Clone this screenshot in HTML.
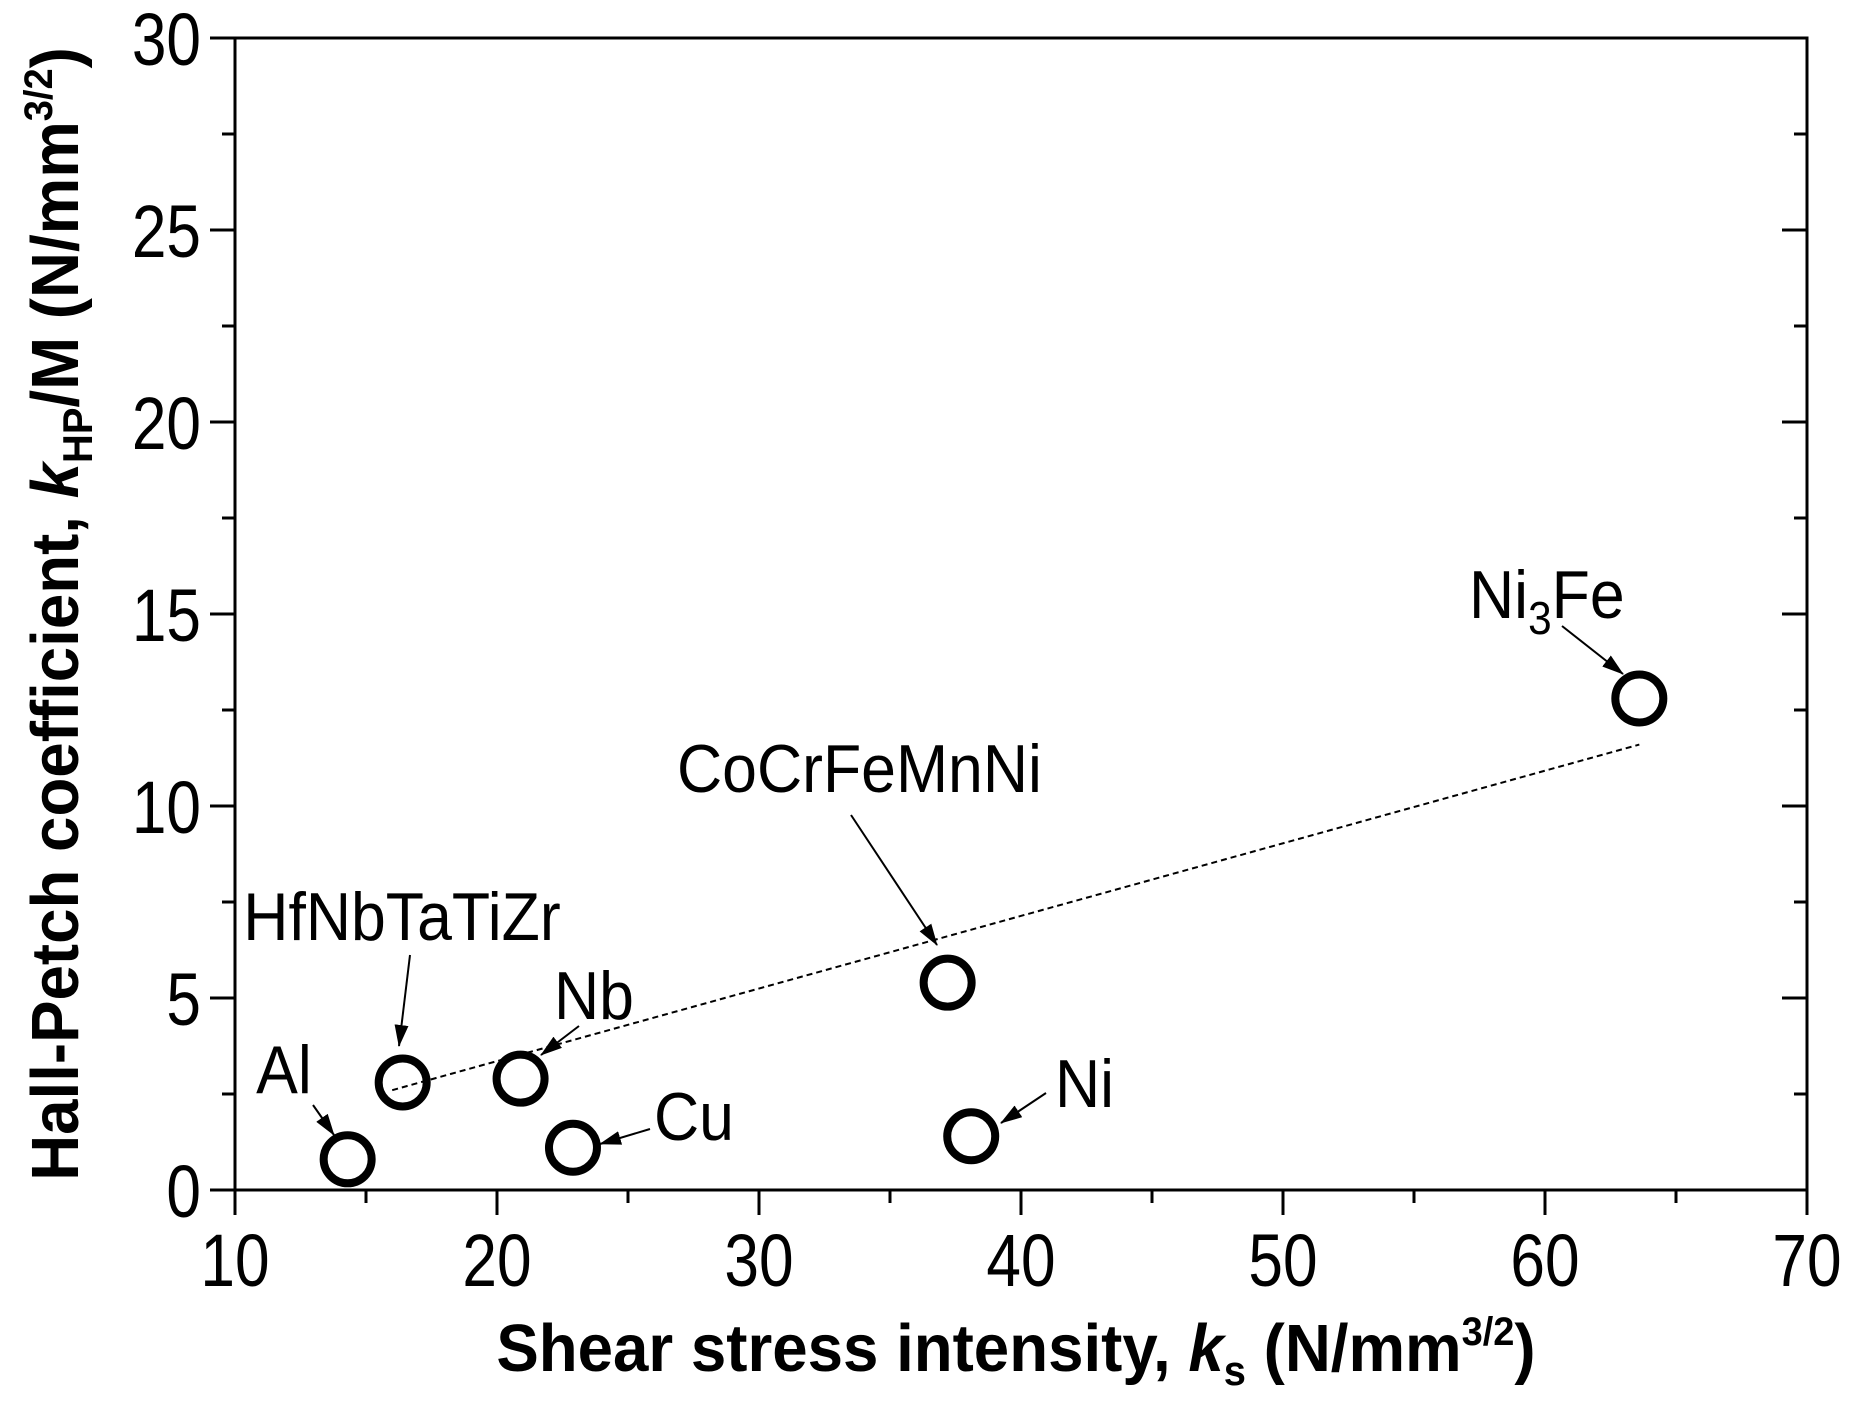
<!DOCTYPE html>
<html><head><meta charset="utf-8"><style>
html,body{margin:0;padding:0;background:#fff}
svg{display:block}
text{font-family:"Liberation Sans",Arial,sans-serif;fill:#000}
</style></head><body>
<svg id="chart" width="1853" height="1404" viewBox="0 0 1853 1404" xmlns="http://www.w3.org/2000/svg">
<defs><marker id="ah" markerWidth="22" markerHeight="14" refX="21" refY="7" orient="auto" markerUnits="userSpaceOnUse" viewBox="0 0 22 14"><path d="M0,0 L22,7 L0,14 Z" fill="#000"/></marker></defs>
<g id="axes"></g>
<g id="marks"></g>
<text x="1016" y="1371" text-anchor="middle" font-weight="bold" font-size="67" transform="translate(1016,0) scale(0.95,1) translate(-1016,0)">Shear stress intensity, <tspan font-style="italic">k</tspan><tspan font-size="42" dy="14">s</tspan><tspan dy="-14"> (N/mm</tspan><tspan font-size="40" dy="-26">3/2</tspan><tspan dy="26">)</tspan></text>
<text transform="translate(78,614) rotate(-90) scale(0.95,1)" text-anchor="middle" font-weight="bold" font-size="67">Hall-Petch coefficient, <tspan font-style="italic">k</tspan><tspan font-size="42" dy="14">HP</tspan><tspan dy="-14">/M (N/mm</tspan><tspan font-size="40" dy="-26">3/2</tspan><tspan dy="26">)</tspan></text>
</svg>
<script>
const xTicks=[10,20,30,40,50,60,70];
const yTicks=[0,5,10,15,20,25,30];
const names=["Al","HfNbTaTiZr","Nb","Cu","CoCrFeMnNi","Ni","Ni3Fe"];
const xVals=[14.3,16.4,20.9,22.9,37.2,38.1,63.6];
const yVals=[0.8,2.8,2.9,1.1,5.4,1.4,12.8];
const fitX=[16.0,63.6];
const fitY=[2.6,11.6];
const X0=235,X1=1807,Y0=1190,Y1=38;
const sx=v=>X0+(v-10)/60*(X1-X0);
const sy=v=>Y0-(v/30)*(Y0-Y1);
const NS="http://www.w3.org/2000/svg";
function mk(tag,attrs,parent){const e=document.createElementNS(NS,tag);for(const k in attrs)e.setAttribute(k,attrs[k]);parent.appendChild(e);return e;}
const ax=document.getElementById('axes');
let e=mk('rect',{x:X0,y:Y1,width:X1-X0,height:Y0-Y1,fill:'none',stroke:'#000','stroke-width':3},ax);


for(let v=10;v<=70;v+=5){const maj=v%10===0;
 e=mk('line',{x1:sx(v),x2:sx(v),y1:Y0,y2:Y0+(maj?25:13),stroke:'#000','stroke-width':3},ax);
 
 }
xTicks.forEach(v=>{e=mk('text',{x:sx(v),y:Y0+96,'text-anchor':'middle','font-size':74,transform:`translate(${sx(v)},0) scale(0.84,1) translate(${-sx(v)},0)`},ax);e.textContent=v;
 
 });
for(let v=0;v<=30;v+=2.5){const maj=v%5===0;
 e=mk('line',{x1:X0,x2:X0-(maj?25:13),y1:sy(v),y2:sy(v),stroke:'#000','stroke-width':3},ax);
 
 
 e=mk('line',{x1:X1,x2:X1-(maj?25:13),y1:sy(v),y2:sy(v),stroke:'#000','stroke-width':3},ax);
 
 }
yTicks.forEach(v=>{e=mk('text',{x:X0-34,y:sy(v)+27,'text-anchor':'end','font-size':74,transform:`translate(${X0-34},0) scale(0.84,1) translate(${-(X0-34)},0)`},ax);e.textContent=v;
 
 });
const mg=document.getElementById('marks');
e=mk('line',{x1:sx(fitX[0]),y1:sy(fitY[0]),x2:sx(fitX[1]),y2:sy(fitY[1]),stroke:'#000','stroke-width':2,'stroke-dasharray':'6,4'},mg);


xVals.forEach((v,i)=>{e=mk('circle',{cx:sx(v),cy:sy(yVals[i]),r:24,fill:'none',stroke:'#000','stroke-width':8},mg);
 
 });
const ann=[[284,1093,'middle',313,1105,334,1135],[402,940,'middle',410,955,399,1046],[594,1019,'middle',579,1026,541,1055],[654,1140,'start',650,1129,600,1144],[677,792,'start',851,815,937,945],[1055,1107,'start',1046,1093,1001,1123],[1469,618,'start',1562,626,1623,674]];
ann.forEach((a,i)=>{
 const t=mk('text',{x:a[0],y:a[1],'text-anchor':a[2],'font-size':68,transform:`translate(${a[0]},0) scale(0.92,1) translate(${-a[0]},0)`},mg);
 if(names[i]==='Ni3Fe'){t.innerHTML='Ni<tspan font-size="46" dy="16">3</tspan><tspan dy="-16">Fe</tspan>';}else t.textContent=names[i];
 
 
 const l=mk('line',{x1:a[3],y1:a[4],x2:a[5],y2:a[6],stroke:'#000','stroke-width':2,'marker-end':'url(#ah)'},mg);
 
 
});
</script>
</body></html>
